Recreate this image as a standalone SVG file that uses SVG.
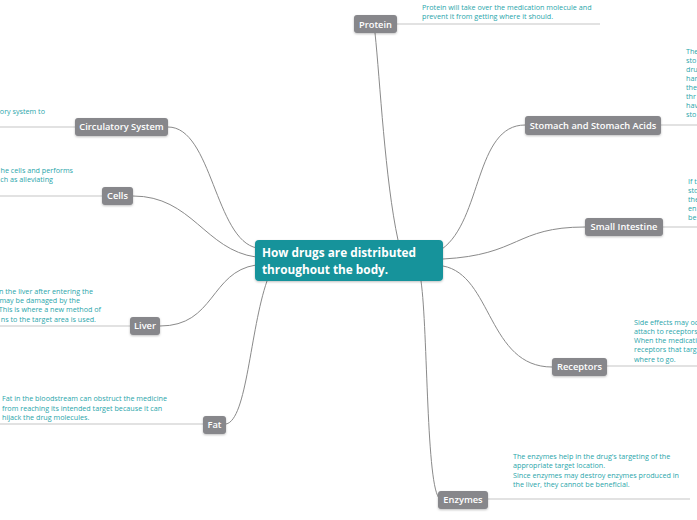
<svg xmlns="http://www.w3.org/2000/svg" width="697" height="520" viewBox="0 0 697 520">
<defs>
<filter id="sh" x="-20%" y="-30%" width="140%" height="170%">
<feDropShadow dx="0" dy="1" stdDeviation="0.8" flood-color="#000" flood-opacity="0.25"/>
</filter>
</defs>
<style>
.conn{fill:none;stroke:#8a8a8a;stroke-width:1}
.uline{stroke:#d9d9d9;stroke-width:1.5}
.topic{fill:#87878b;filter:url(#sh)}
.tt{font-family:"Open Sans","Noto Sans",sans-serif;font-size:9.3px;font-weight:600;fill:#ffffff;text-anchor:middle}
.note{font-family:"Open Sans","Noto Sans",sans-serif;font-size:7.2px;fill:#2aa6ab}
.main{fill:#14939b;filter:url(#sh)}
.mt{font-family:"Open Sans","Noto Sans",sans-serif;font-size:11.8px;font-weight:700;fill:#ffffff}
</style>
<rect width="697" height="520" fill="#ffffff"/>
<g id="connectors">
<path class="conn" d="M375,33 C380,80 385,180 398,240"/>
<path class="conn" d="M442,249 C482,220 475,125 525,125"/>
<path class="conn" d="M443,259 C520,255 515,227 585,227"/>
<path class="conn" d="M443,266 C492,275 488,367 552,367"/>
<path class="conn" d="M421,281 C428,330 426,490 440,499"/>
<path class="conn" d="M168,127 C212,127 215,240 257,248"/>
<path class="conn" d="M133,196 C192,196 205,250 256,257"/>
<path class="conn" d="M160,326 C215,326 210,272 256,265"/>
<path class="conn" d="M226,424 C247,420 250,330 267,281"/>
</g>
<g id="center">
<rect class="main" x="255" y="240" width="188" height="41" rx="4"/>
<text class="mt" x="262" y="257">How drugs are distributed</text>
<text class="mt" x="262" y="274">throughout the body.</text>
</g>
<g id="protein">
<line class="uline" x1="397" y1="24" x2="600" y2="24"/>
<rect class="topic" x="354" y="15" width="43" height="18" rx="3"/>
<text class="tt" x="375.5" y="27.5">Protein</text>
<text class="note" x="422" y="10">Protein will take over the medication molecule and</text>
<text class="note" x="422" y="19">prevent it from getting where it should.</text>
</g>
<g id="stomach">
<line class="uline" x1="661" y1="125" x2="697" y2="125"/>
<rect class="topic" x="525" y="116" width="136" height="19" rx="3"/>
<text class="tt" x="593" y="128.5">Stomach and Stomach Acids</text>
<text class="note" x="686" y="54">The</text>
<text class="note" x="686" y="63">sto</text>
<text class="note" x="686" y="72">dru</text>
<text class="note" x="686" y="81">har</text>
<text class="note" x="686" y="90">the</text>
<text class="note" x="686" y="99">thr</text>
<text class="note" x="686" y="108">hav</text>
<text class="note" x="686" y="117">sto</text>
</g>
<g id="small-intestine">
<line class="uline" x1="663" y1="227" x2="697" y2="227"/>
<rect class="topic" x="585" y="218" width="78" height="18" rx="3"/>
<text class="tt" x="624" y="230">Small Intestine</text>
<text class="note" x="688" y="184">If t</text>
<text class="note" x="688" y="193">sto</text>
<text class="note" x="688" y="202">the</text>
<text class="note" x="688" y="211">en</text>
<text class="note" x="688" y="220">be</text>
</g>
<g id="receptors">
<line class="uline" x1="607" y1="366" x2="697" y2="366"/>
<rect class="topic" x="552" y="358" width="55" height="18" rx="3"/>
<text class="tt" x="579.5" y="370">Receptors</text>
<text class="note" x="634" y="325">Side effects may oc</text>
<text class="note" x="634" y="334">attach to receptors</text>
<text class="note" x="634" y="343">When the medicati</text>
<text class="note" x="634" y="352">receptors that targ</text>
<text class="note" x="634" y="362">where to go.</text>
</g>
<g id="enzymes">
<line class="uline" x1="488" y1="499" x2="690" y2="499"/>
<rect class="topic" x="438" y="491" width="50" height="18" rx="3"/>
<text class="tt" x="463" y="503">Enzymes</text>
<text class="note" x="513" y="459">The enzymes help in the drug's targeting of the</text>
<text class="note" x="513" y="468">appropriate target location.</text>
<text class="note" x="513" y="478">Since enzymes may destroy enzymes produced in</text>
<text class="note" x="513" y="487">the liver, they cannot be beneficial.</text>
</g>
<g id="circulatory">
<line class="uline" x1="0" y1="127" x2="75" y2="127"/>
<rect class="topic" x="75" y="118" width="93" height="18" rx="3"/>
<text class="tt" x="121.5" y="130">Circulatory System</text>
<text class="note" x="45" y="114" text-anchor="end">ory system to</text>
</g>
<g id="cells">
<line class="uline" x1="0" y1="196" x2="102" y2="196"/>
<rect class="topic" x="102" y="187" width="31" height="18" rx="3"/>
<text class="tt" x="117.5" y="199">Cells</text>
<text class="note" x="73" y="173" text-anchor="end">he cells and performs</text>
<text class="note" x="53" y="182" text-anchor="end">ch as alleviating</text>
</g>
<g id="liver">
<line class="uline" x1="0" y1="326" x2="130" y2="326"/>
<rect class="topic" x="130" y="317" width="30" height="18" rx="3"/>
<text class="tt" x="145" y="329">Liver</text>
<text class="note" x="93" y="294" text-anchor="end">n the liver after entering the</text>
<text class="note" x="80" y="303" text-anchor="end">may be damaged by the</text>
<text class="note" x="101" y="312" text-anchor="end">This is where a new method of</text>
<text class="note" x="96" y="322" text-anchor="end">ns to the target area is used.</text>
</g>
<g id="fat">
<line class="uline" x1="0" y1="424" x2="203" y2="424"/>
<rect class="topic" x="203" y="416" width="23" height="18" rx="3"/>
<text class="tt" x="214.5" y="428">Fat</text>
<text class="note" x="2" y="401">Fat in the bloodstream can obstruct the medicine</text>
<text class="note" x="2" y="411">from reaching its intended target because it can</text>
<text class="note" x="2" y="420">hijack the drug molecules.</text>
</g>
</svg>
